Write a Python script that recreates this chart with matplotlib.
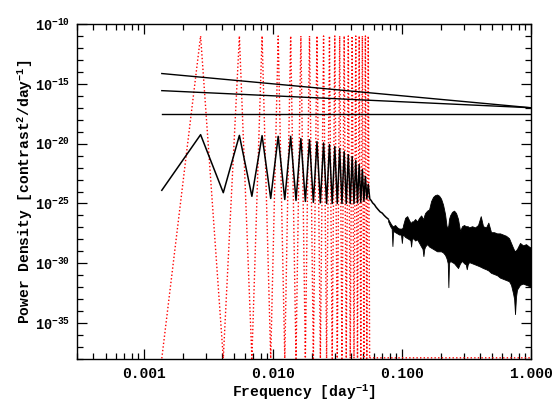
import numpy as np
import matplotlib
matplotlib.use("Agg")
import matplotlib.pyplot as plt
from matplotlib.ticker import FixedLocator, FixedFormatter, NullFormatter

plt.rcParams['font.family'] = ['Liberation Mono', 'DejaVu Sans Mono']
plt.rcParams['font.weight'] = 'bold'
plt.rcParams['mathtext.fontset'] = 'custom'
plt.rcParams['mathtext.rm'] = 'Liberation Mono:bold'
plt.rcParams['mathtext.it'] = 'Liberation Mono:bold'
plt.rcParams['mathtext.bf'] = 'Liberation Mono:bold'
plt.rcParams['mathtext.default'] = 'rm'

# ---------------- data ----------------
df = 0.001365                      # frequency resolution [day^-1]
harmonics = list(range(1, 42))     # harmonic numbers of the low-frequency part

# log10 power of the black spectrum at each harmonic
black_low = [-23.9, -19.25, -24.1, -19.31, -24.4, -19.33, -24.58, -19.39, -24.67, -19.39,
             -24.75, -19.58, -24.83, -19.67, -24.9, -19.83, -24.95, -19.94, -25.0, -20.08,
             -25.0, -20.25, -25.0, -20.42, -25.0, -20.67, -25.0, -20.92, -25.0, -21.08,
             -25.0, -21.42, -24.95, -21.75, -24.9, -22.17, -24.8, -22.75, -24.6, -23.4,
             -24.5]

# log10 power of the red dotted curve at each harmonic
red_low = [-37.95, -11.0, -37.95, -11.0, -37.95, -11.0, -37.95, -11.0, -37.95, -11.0,
           -37.95, -11.0, -37.95, -11.0, -37.95, -11.0, -37.95, -11.0, -37.95, -11.0,
           -37.95, -11.0, -37.95, -11.0, -37.95, -11.0, -37.95, -11.0, -37.95, -11.0,
           -37.95, -11.0, -37.95, -11.0, -37.95, -11.0, -37.95, -11.0, -37.95, -11.0,
           -37.95]
red_tail_f = [0.0560, 1.0]
red_tail_p = [-37.9, -37.9]

# smooth tail of the black spectrum after the harmonics
tail_f = [0.0560, 0.0575, 0.0590, 0.0610, 0.0627, 0.0650, 0.0675, 0.0700, 0.0726, 0.0750, 0.0779]
tail_p = [-24.6, -24.75, -24.95, -25.1, -25.3, -25.5, -25.7, -25.8, -26.0, -26.15, -26.3]

# dense high-frequency band: upper / lower envelope (log10)
band_f = [0.0779, 0.0807, 0.0830, 0.0841, 0.0851, 0.0882, 0.0915, 0.0948, 0.0980, 0.0995,
          0.1010, 0.1018, 0.1055, 0.1094, 0.1133, 0.1160, 0.1174, 0.1190, 0.1217, 0.1262,
          0.1307, 0.1355, 0.1404, 0.1440, 0.1463, 0.1485, 0.1508, 0.1563, 0.1619, 0.1678,
          0.1739, 0.1802, 0.1867, 0.1935, 0.2005, 0.2078, 0.2154, 0.2213, 0.2260, 0.2285,
          0.2310, 0.2355, 0.2441, 0.2529, 0.2621, 0.2716, 0.2815, 0.2917, 0.3023, 0.3120,
          0.3173, 0.3230, 0.3307, 0.3488, 0.3681, 0.3882, 0.4074, 0.4245, 0.4479, 0.4667,
          0.4897, 0.5167, 0.5451, 0.5751, 0.6067, 0.6401, 0.6753, 0.6998, 0.7253, 0.7400,
          0.7516, 0.7650, 0.7789, 0.8218, 0.8670, 0.9146, 0.9649, 1.0]
band_hi = [-26.3, -26.6, -26.8, -26.9, -26.9, -26.8, -27.0, -27.1, -27.1, -27.1,
           -27.0, -26.8, -26.2, -26.06, -26.4, -26.6, -26.6, -26.5, -26.5, -26.3,
           -26.5, -26.2, -26.0, -26.2, -26.3, -26.0, -25.8, -25.6, -25.5, -24.8,
           -24.45, -24.3, -24.25, -24.35, -24.6, -25.1, -25.9, -26.9, -27.0, -26.8,
           -26.3, -26.0, -25.7, -25.6, -25.8, -26.3, -27.3, -26.9, -26.8, -26.9,
           -26.9, -26.9, -27.0, -26.9, -27.0, -26.8, -26.06, -26.9, -27.0, -26.6,
           -27.4, -27.4, -27.5, -27.5, -27.6, -27.7, -27.9, -28.3, -28.7, -28.9,
           -29.0, -28.9, -28.8, -28.3, -28.5, -28.4, -28.6, -28.7]
band_lo = [-26.5, -26.9, -27.1, -28.56, -27.3, -27.4, -27.5, -27.6, -27.6, -28.3,
           -27.6, -27.6, -27.8, -27.9, -28.0, -28.1, -28.6, -28.0, -27.9, -28.1,
           -28.0, -28.3, -28.6, -28.8, -29.4, -28.8, -28.6, -28.4, -28.6, -28.7,
           -28.8, -28.9, -29.0, -29.0, -29.0, -29.1, -29.3, -29.6, -30.0, -32.0,
           -30.0, -29.8, -29.9, -30.0, -30.2, -30.4, -30.0, -29.8, -30.0, -30.1,
           -30.5, -30.1, -29.9, -30.0, -30.1, -30.2, -30.3, -30.4, -30.5, -30.6,
           -30.8, -30.9, -31.0, -31.2, -31.3, -31.4, -31.5, -31.8, -32.5, -33.0,
           -34.25, -32.8, -32.2, -31.8, -31.7, -31.8, -31.9, -32.0]

# noise reference lines (end points)
noise_f = [0.001365, 1.0]
noise_red = [-14.14, -17.0]
noise_pink = [-15.57, -17.0]
noise_white = [-17.5, -17.5]

# axis ticks
xtick_vals = [0.001, 0.01, 0.1, 1.0]
xtick_labels = ['0.001', '0.010', '0.100', '1.000']
ytick_exps = [-35, -30, -25, -20, -15, -10]

# ---------------- plot ----------------
fig = plt.figure(figsize=(5.54, 4.08), dpi=100)
ax = fig.add_axes([77/554, 1 - 359/408, (531-77)/554, (359-24)/408])

f_low = np.array(harmonics) * df

# red dotted
ax.plot(np.concatenate([f_low, red_tail_f]),
        10.0 ** np.concatenate([red_low, red_tail_p]),
        color='#ff0000', lw=1.0, linestyle=(0, (1, 1.6)), zorder=2)

# black spectrum
ax.plot(np.concatenate([f_low, tail_f]), 10.0 ** np.concatenate([black_low, tail_p]),
        color='black', lw=1.1, zorder=3)
ax.fill_between(band_f, 10.0 ** np.array(band_lo), 10.0 ** np.array(band_hi),
                facecolor='black', edgecolor='black', lw=0.6, zorder=3)

# noise lines
for vals in (noise_red, noise_pink, noise_white):
    ax.plot(noise_f, 10.0 ** np.array(vals), color='black', lw=1.0, zorder=4)

ax.set_xscale('log')
ax.set_yscale('log')
ax.set_xlim(3.0e-4, 1.0)
ax.set_ylim(1e-38, 1e-10)

ax.xaxis.set_major_locator(FixedLocator(xtick_vals))
ax.xaxis.set_major_formatter(FixedFormatter(xtick_labels))
minors = [m * 10.0 ** e for e in range(-4, 0) for m in range(2, 10)]
ax.xaxis.set_minor_locator(FixedLocator(minors))
ax.xaxis.set_minor_formatter(NullFormatter())

ax.yaxis.set_major_locator(FixedLocator([10.0 ** e for e in ytick_exps]))
ax.yaxis.set_major_formatter(FixedFormatter([r'$10^{%d}$' % e for e in ytick_exps]))
ax.yaxis.set_minor_locator(FixedLocator([10.0 ** e for e in range(-38, -9)]))
ax.yaxis.set_minor_formatter(NullFormatter())

ax.tick_params(which='both', direction='in', top=True, right=True, width=0.9, colors='black')
ax.tick_params(which='major', length=7)
ax.tick_params(which='minor', length=4)
ax.tick_params(axis='x', which='major', labelsize=10.5, pad=6)
ax.tick_params(axis='y', which='major', labelsize=9.8, pad=5)
for lab in ax.get_xticklabels() + ax.get_yticklabels():
    lab.set_fontweight('bold')
for sp in ax.spines.values():
    sp.set_linewidth(1.0)

ax.set_xlabel(r'Frequency [day$^{-1}$]', fontsize=10.5, fontweight='bold', labelpad=1)
ax.set_ylabel(r'Power Density [contrast$^{2}$/day$^{-1}$]', fontsize=10.5,
              fontweight='bold')
ax.yaxis.set_label_coords(-0.092, 0.5)

fig.savefig('out.png', dpi=100)
